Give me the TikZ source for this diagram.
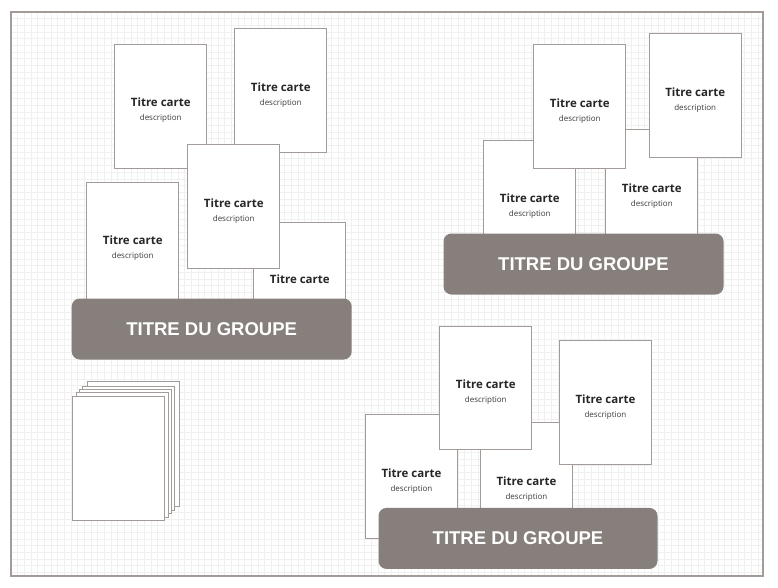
\documentclass[tikz,border=0pt]{standalone}
\usepackage{fontspec}
\setmainfont{Open Sans}
\newfontfamily\groupefont{Liberation Sans}
\usetikzlibrary{positioning}

\definecolor{bordgris}{HTML}{A29B97}
\definecolor{groupegris}{HTML}{877F7B}
\definecolor{grille}{HTML}{F0F0F0}
\definecolor{textegris}{HTML}{3A3A3A}

\newcommand{\titrecarte}{\rule{0pt}{17pt}Titre carte\\[-1pt]{\mdseries\color{textegris}\fontsize{8}{9}\selectfont description}}

\begin{document}
\begin{tikzpicture}[x=1pt,y=-1pt]

\tikzset{carte/.style={draw=bordgris, fill=white, line width=0.9pt, anchor=north west,
    minimum width=92pt, minimum height=123.5pt, inner sep=0pt, align=center,
    text=black!85, font=\bfseries\fontsize{11.5}{15}\selectfont},
  groupe/.style={fill=groupegris, rounded corners=8pt, anchor=north west,
    minimum width=280pt, minimum height=61pt, text=white,
    font=\groupefont\bfseries\fontsize{18.5}{20}\selectfont}}

\useasboundingbox (0,0) rectangle (778,587);
\fill[white] (0,0) rectangle (778,587);
\begin{scope}[shift={(11,12)}]
  \draw[grille, line width=0.5pt, step=6.67pt] (0,0) grid (752,564);
\end{scope}
\draw[bordgris, line width=1.3pt] (11,12) rectangle (763,576);

% groupe 1
\node[carte] (g1a) at (114.3,44) {\titrecarte};
\node[carte] (g1b) at (234.3,28.3) {\titrecarte};
\node[carte] (g1d) at (86.3,181.7) {\titrecarte};
\node[carte] (g1e) at (253.3,222.3) {\rule{0pt}{17pt}Titre carte\\[-1pt]\strut};
\node[carte] (g1c) at (187.3,144.3) {\titrecarte};
\node[groupe] (groupe1) at (71.5,298.3) {TITRE DU GROUPE};

% groupe 2
\node[carte] (g2h) at (483.3,140) {\titrecarte};
\node[carte] (g2i) at (605.3,129.3) {\titrecarte};
\node[carte] (g2f) at (533.3,44.3) {\titrecarte};
\node[carte] (g2g) at (648.7,33.3) {\titrecarte};
\node[groupe] (groupe2) at (443.3,233.3) {TITRE DU GROUPE};

% groupe 3
\node[carte] (g3l) at (365,414.3) {\titrecarte};
\node[carte] (g3m) at (480,422.3) {\titrecarte};
\node[carte] (g3j) at (439.3,325.7) {\titrecarte};
\node[carte] (g3k) at (559,340.3) {\titrecarte};
\node[groupe, minimum width=279pt] (groupe3) at (378.3,507.7) {TITRE DU GROUPE};

% pile
\foreach \d/\n in {14.3/5,9.6/4,6.6/3,3.4/2,0/1}
  \node[carte, minimum height=124.3pt] (pile\n) at (72.3+\d,395.7-\d) {};

\end{tikzpicture}
\end{document}
